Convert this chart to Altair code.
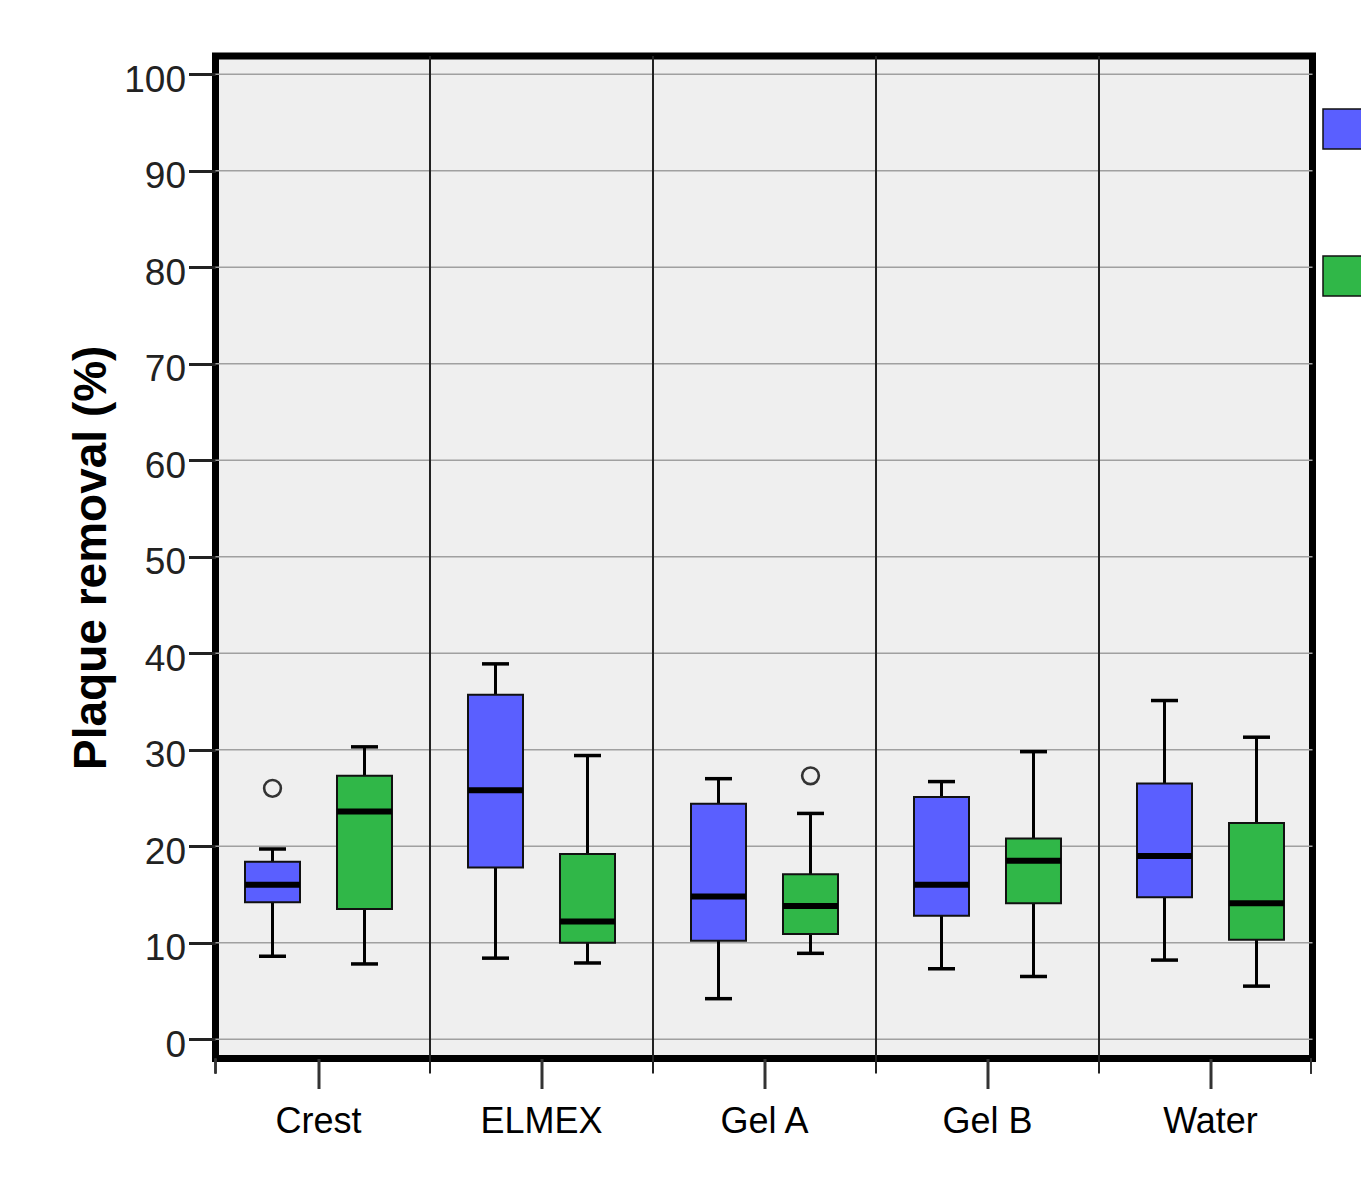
import altair as alt
import pandas as pd

categories = ["Crest", "ELMEX", "Gel A", "Gel B", "Water"]
groups = ["Group 1", "Group 2"]
colors = ["#5a5fff", "#30b748"]

# blue series (Group 1)
g1_lower = [8.6, 8.4, 4.2, 7.3, 8.2]
g1_q1 = [14.2, 17.8, 10.2, 12.8, 14.7]
g1_median = [16.0, 25.8, 14.8, 16.0, 19.0]
g1_q3 = [18.4, 35.7, 24.4, 25.1, 26.5]
g1_upper = [19.7, 38.9, 27.0, 26.7, 35.1]

# green series (Group 2)
g2_lower = [7.8, 7.9, 8.9, 6.5, 5.5]
g2_q1 = [13.5, 10.0, 10.9, 14.1, 10.3]
g2_median = [23.6, 12.2, 13.8, 18.5, 14.1]
g2_q3 = [27.3, 19.2, 17.1, 20.8, 22.4]
g2_upper = [30.3, 29.4, 23.4, 29.8, 31.3]

out_category = ["Crest", "Gel A"]
out_group = ["Group 1", "Group 2"]
out_value = [26.0, 27.3]

y_ticks = [0, 10, 20, 30, 40, 50, 60, 70, 80, 90, 100]

rows = []
for g, lo, a, m, b, hi in [
    (groups[0], g1_lower, g1_q1, g1_median, g1_q3, g1_upper),
    (groups[1], g2_lower, g2_q1, g2_median, g2_q3, g2_upper),
]:
    for i, c in enumerate(categories):
        rows.append(dict(category=c, group=g, lower=lo[i], q1=a[i],
                         median=m[i], q3=b[i], upper=hi[i]))
df = pd.DataFrame(rows)
out_df = pd.DataFrame(dict(category=out_category, group=out_group, value=out_value))
div_df = pd.DataFrame(dict(category=categories[1:]))
grid_df = pd.DataFrame(dict(tick=y_ticks))

W = 1097
H = 1002.5

x_scale = alt.Scale(domain=categories, range=[-8.5, 1106.5], paddingInner=0, paddingOuter=0)
x_axis = alt.Axis(labelFont="Liberation Sans", labelFontSize=36, labelColor="#000",
                  labelAngle=0, labelPadding=16, tickSize=30, tickWidth=3,
                  tickColor="#333", domain=False, grid=False)
X = alt.X("category:N", scale=x_scale, axis=x_axis, title=None)
XO = alt.XOffset("group:N", scale=alt.Scale(domain=groups, paddingInner=0, paddingOuter=0.212))
y_scale = alt.Scale(domain=[-2.0, 101.9], nice=False, zero=False)
y_axis = alt.Axis(values=y_ticks, labelFont="Liberation Sans", labelFontSize=37,
                  labelColor="#222", labelPadding=3, labelOffset=6, tickSize=27,
                  tickWidth=3, tickColor="#222", domain=False, grid=False,
                  titleFont="Liberation Sans", titleFontSize=46, titleFontWeight="bold",
                  titleColor="#000", titlePadding=8)

base = alt.Chart(df)

grid = alt.Chart(grid_df).mark_rule(color="#a0a0a0", strokeWidth=1.5).encode(
    y=alt.Y("tick:Q", scale=y_scale, axis=y_axis, title="Plaque removal (%)"),
    x=alt.value(0), x2=alt.value(W))

dividers = alt.Chart(div_df).mark_rule(color="#222", strokeWidth=2).encode(
    x=alt.X("category:N", scale=x_scale, axis=x_axis, title=None, bandPosition=0),
    y=alt.value(0), y2=alt.value(H + 15))

edge_left = alt.Chart(div_df).mark_rule(color="#333", strokeWidth=2).encode(
    x=alt.value(0), y=alt.value(H), y2=alt.value(H + 15))
edge_right = alt.Chart(div_df).mark_rule(color="#333", strokeWidth=2).encode(
    x=alt.value(1095.5), y=alt.value(H), y2=alt.value(H + 15))

whisk_lo = base.mark_rule(color="#000", strokeWidth=3).encode(
    x=X, xOffset=XO, y=alt.Y("lower:Q", scale=y_scale), y2="q1:Q")
whisk_hi = base.mark_rule(color="#000", strokeWidth=3).encode(
    x=X, xOffset=XO, y=alt.Y("q3:Q", scale=y_scale), y2="upper:Q")

boxes = base.mark_bar(size=55, stroke="#111", strokeWidth=2).encode(
    x=X, xOffset=XO, y=alt.Y("q1:Q", scale=y_scale), y2="q3:Q",
    color=alt.Color("group:N", scale=alt.Scale(domain=groups, range=colors),
                    legend=alt.Legend(orient="none", legendX=1106.5, legendY=52,
                                      title=None, symbolType="square", symbolSize=1600,
                                      symbolStrokeColor="#111", symbolStrokeWidth=1.5,
                                      symbolOpacity=1, rowPadding=101, padding=0,
                                      labelExpr="''", labelFontSize=20,
                                      labelFont="Liberation Sans")))

medians = base.mark_tick(size=55, thickness=6, color="#000", opacity=1).encode(
    x=X, xOffset=XO, y=alt.Y("median:Q", scale=y_scale))
caps_lo = base.mark_tick(size=27, thickness=3.5, color="#000", opacity=1).encode(
    x=X, xOffset=XO, y=alt.Y("lower:Q", scale=y_scale))
caps_hi = base.mark_tick(size=27, thickness=3.5, color="#000", opacity=1).encode(
    x=X, xOffset=XO, y=alt.Y("upper:Q", scale=y_scale))

outliers = alt.Chart(out_df).mark_point(shape="circle", filled=False, size=280,
                                        strokeWidth=2.6, color="#333", opacity=1).encode(
    x=X, xOffset=XO, y=alt.Y("value:Q", scale=y_scale))

chart = alt.layer(
    grid, dividers, edge_left, edge_right, whisk_lo, whisk_hi, boxes, medians,
    caps_lo, caps_hi, outliers
).properties(
    width=W, height=H,
    autosize=alt.AutoSizeParams(type="none"),
    padding={"left": 215.5, "top": 56, "right": 48.5, "bottom": 121.5},
    background="#ffffff",
).configure_view(
    stroke="#000", strokeWidth=7, fill="#efefef"
)

chart.save("out.html", embed_options={"renderer": "svg", "actions": False})
